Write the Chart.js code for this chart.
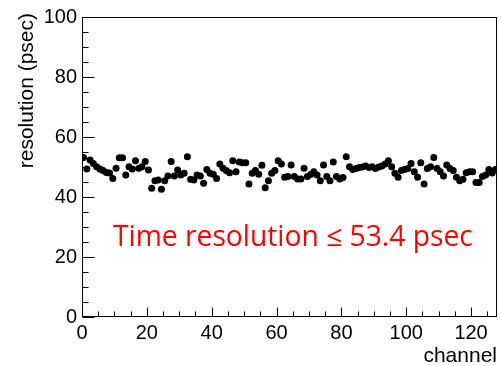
<!DOCTYPE html>
<html><head><meta charset="utf-8">
<script src="https://cdn.jsdelivr.net/npm/chart.js@4"></script>
<style>html,body{margin:0;padding:0;background:#fff}#c{display:block}</style>
</head><body>
<canvas id="c" width="501" height="366"></canvas>
<script>
// channel numbers 0..127
const channels = [0,1,2,3,4,5,6,7,8,9,10,11,12,13,14,15,16,17,18,19,20,21,22,23,24,25,26,27,28,29,30,31,
  32,33,34,35,36,37,38,39,40,41,42,43,44,45,46,47,48,49,50,51,52,53,54,55,56,57,58,59,60,61,62,63,
  64,65,66,67,68,69,70,71,72,73,74,75,76,77,78,79,80,81,82,83,84,85,86,87,88,89,90,91,92,93,94,95,
  96,97,98,99,100,101,102,103,104,105,106,107,108,109,110,111,112,113,114,115,116,117,118,119,120,121,122,123,124,125,126,127];
// time resolution (psec) per channel
const resolution = [53.2,49.3,52.3,51.2,50.1,49.3,48.8,48.2,48.0,46.2,49.6,53.1,53.1,47.3,50.1,49.3,
  52.1,49.6,50.1,51.8,49.0,42.9,45.4,45.7,42.6,45.4,47.0,51.8,47.0,49.0,47.3,47.9,
  53.4,45.9,45.7,47.3,47.0,44.6,49.2,47.9,47.6,46.2,51.0,49.6,48.8,48.1,52.1,48.4,
  51.7,51.4,51.4,44.3,47.9,48.8,47.6,50.6,43.1,45.4,47.9,48.8,52.1,51.0,46.6,46.8,
  50.7,46.8,46.0,46.0,49.6,46.8,47.5,48.4,47.3,45.4,50.7,46.8,45.4,51.7,46.8,46.0,
  46.5,53.4,50.1,49.2,49.5,49.8,50.0,50.3,49.8,50.1,49.5,50.0,50.3,51.0,52.1,50.1,
  47.9,46.6,48.8,49.2,49.5,51.2,48.4,46.6,51.4,44.3,49.5,50.1,53.2,49.5,48.4,47.0,
  50.7,49.5,48.8,46.6,45.4,45.9,48.1,48.4,48.4,44.8,44.8,46.8,47.3,49.2,48.0,49.2];
const xTickLabels = [0,20,40,60,80,100,120];
const yTickLabels = [0,20,40,60,80,100];
const xTitle = 'channel';
const yTitle = 'resolution (psec)';
const annotationText = 'Time resolution \u2264 53.4 psec';

const FONT = "'Liberation Sans', Arial, sans-serif";

const framePlugin = {
  id: 'frame',
  afterDraw(chart) {
    const {ctx, chartArea: a, scales} = chart;
    const L = Math.round(a.left) + 0.5, R = Math.round(a.right) - 0.5;
    const T = Math.round(a.top) + 0.5, B = Math.round(a.bottom) - 0.5;
    ctx.save();
    ctx.strokeStyle = '#000';
    ctx.lineWidth = 1;
    ctx.strokeRect(L, T, R - L, B - T);
    ctx.beginPath();
    // y ticks (inside, from left axis)
    for (let v = 0; v <= 100; v += 5) {
      const y = Math.round(scales.y.getPixelForValue(v)) + 0.5;
      const len = (v % 20 === 0) ? 12 : 6;
      ctx.moveTo(L, y); ctx.lineTo(L + len, y);
    }
    // x ticks (inside, from bottom axis)
    for (let v = 0; v <= 128; v += 5) {
      const x = Math.round(scales.x.getPixelForValue(v)) + 0.5;
      const len = (v % 20 === 0) ? 9 : 5;
      ctx.moveTo(x, B); ctx.lineTo(x, B - len);
    }
    ctx.stroke();

    // y axis title, aligned to top of axis (ROOT style)
    ctx.fillStyle = '#000';
    ctx.font = "21px " + FONT;
    ctx.save();
    ctx.translate(27, a.top - 4);
    ctx.rotate(-Math.PI / 2);
    ctx.textAlign = 'right';
    ctx.textBaseline = 'middle';
    ctx.fillText(yTitle, 0, 0);
    ctx.restore();

    // x axis title, aligned to right end
    ctx.textAlign = 'right';
    ctx.textBaseline = 'alphabetic';
    ctx.fillText(xTitle, a.right, 362);

    // annotation text
    let size = 28;
    ctx.font = size + "px 'Open Sans', sans-serif";
    const w = ctx.measureText(annotationText).width;
    size = size * 360 / w;
    ctx.font = size.toFixed(2) + "px 'Open Sans', sans-serif";
    ctx.fillStyle = '#ff0000';
    ctx.textAlign = 'left';
    ctx.textBaseline = 'alphabetic';
    ctx.fillText(annotationText, 113, 246);
    ctx.restore();
  }
};

new Chart(document.getElementById('c'), {
  type: 'scatter',
  data: {
    datasets: [{
      data: channels.map((c, i) => ({x: c + 0.5, y: resolution[i]})),
      pointRadius: 3.5,
      pointHoverRadius: 3.5,
      backgroundColor: '#000',
      borderWidth: 0,
      pointStyle: 'circle'
    }]
  },
  options: {
    responsive: false,
    animation: false,
    events: [],
    layout: {padding: {top: 17, right: 4, left: 0, bottom: 0}},
    plugins: {legend: {display: false}, tooltip: {enabled: false}},
    scales: {
      x: {
        type: 'linear', min: 0, max: 128,
        afterBuildTicks: s => { s.ticks = xTickLabels.map(v => ({value: v})); },
        afterFit: s => { s.height = 49; },
        grid: {display: false, drawTicks: false},
        border: {display: false},
        ticks: {font: {family: FONT, size: 20}, color: '#000', padding: 4, maxRotation: 0, autoSkip: false},
        title: {display: false}
      },
      y: {
        min: 0, max: 100,
        afterBuildTicks: s => { s.ticks = yTickLabels.map(v => ({value: v})); },
        afterFit: s => { s.width = 82; },
        grid: {display: false, drawTicks: false},
        border: {display: false},
        ticks: {font: {family: FONT, size: 20}, color: '#000', padding: 5},
        title: {display: false}
      }
    }
  },
  plugins: [framePlugin]
});
</script>
</body></html>
